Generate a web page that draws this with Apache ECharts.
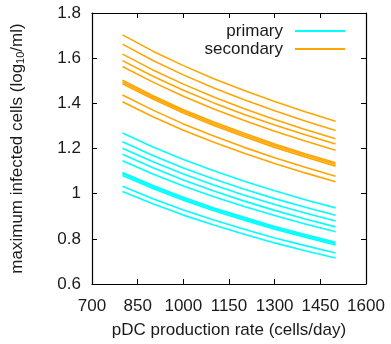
<!DOCTYPE html>
<html>
<head>
<meta charset="utf-8">
<script src="https://cdn.jsdelivr.net/npm/echarts@6/dist/echarts.min.js"></script>
<style>html,body{margin:0;padding:0;background:#fff}#c{width:391px;height:344px}</style>
</head>
<body>
<div id="c"></div>
<script>
const xValues = [800, 900, 1000, 1100, 1200, 1300, 1400, 1500];
const xTicks = [700, 850, 1000, 1150, 1300, 1450, 1600];
const yTicks = [0.6, 0.8, 1, 1.2, 1.4, 1.6, 1.8];

const primary = [
  [1.269, 1.207, 1.151, 1.101, 1.055, 1.013, 0.973, 0.937],
  [1.230, 1.169, 1.114, 1.065, 1.020, 0.978, 0.940, 0.904],
  [1.201, 1.141, 1.087, 1.038, 0.993, 0.952, 0.914, 0.879],
  [1.175, 1.115, 1.061, 1.012, 0.967, 0.926, 0.888, 0.853],
  [1.146, 1.087, 1.034, 0.986, 0.943, 0.903, 0.866, 0.831],
  [1.094, 1.036, 0.984, 0.937, 0.895, 0.855, 0.819, 0.785],
  [1.088, 1.030, 0.978, 0.931, 0.889, 0.849, 0.813, 0.779],
  [1.080, 1.023, 0.971, 0.924, 0.882, 0.843, 0.807, 0.773],
  [1.033, 0.978, 0.928, 0.883, 0.842, 0.804, 0.770, 0.737],
  [1.010, 0.955, 0.905, 0.861, 0.820, 0.782, 0.747, 0.715]
];

const secondary = [
  [1.703, 1.631, 1.567, 1.509, 1.457, 1.408, 1.363, 1.321],
  [1.662, 1.590, 1.526, 1.468, 1.416, 1.367, 1.322, 1.280],
  [1.618, 1.548, 1.485, 1.428, 1.376, 1.328, 1.284, 1.243],
  [1.589, 1.520, 1.458, 1.402, 1.351, 1.304, 1.261, 1.220],
  [1.563, 1.494, 1.431, 1.375, 1.324, 1.276, 1.233, 1.192],
  [1.502, 1.434, 1.372, 1.317, 1.267, 1.220, 1.177, 1.137],
  [1.495, 1.427, 1.365, 1.310, 1.260, 1.213, 1.170, 1.130],
  [1.487, 1.419, 1.357, 1.302, 1.252, 1.205, 1.162, 1.122],
  [1.437, 1.370, 1.309, 1.255, 1.205, 1.159, 1.117, 1.077],
  [1.407, 1.341, 1.281, 1.228, 1.179, 1.134, 1.092, 1.053]
];

const FONT = '"Liberation Sans", Arial, sans-serif';
const TXT = '#1a1a1a';
const FS = 17;

function mk(name, color, vals) {
  return {
    type: 'line', name: name, xAxisIndex: 0, yAxisIndex: 0,
    data: xValues.map((x, i) => [x, vals[i]]),
    symbol: 'none', showSymbol: false, smooth: false,
    lineStyle: { color: color, width: 1.6 }, itemStyle: { color: color },
    animation: false
  };
}

const series = [];
primary.forEach(v => series.push(mk('primary', '#00FFFF', v)));
secondary.forEach(v => series.push(mk('secondary', '#FFA500', v)));

const axisLine = { show: true, lineStyle: { color: '#000', width: 1.2 } };
const axisTick = { show: true, inside: true, length: 5, lineStyle: { color: '#000', width: 1 } };

const chart = echarts.init(document.getElementById('c'), null, { renderer: 'canvas' });
chart.setOption({
  animation: false,
  backgroundColor: '#fff',
  grid: { left: 92, right: 25, top: 13, bottom: 56, containLabel: false },
  legend: {
    data: ['primary', 'secondary'],
    orient: 'vertical', align: 'right',
    right: 41, top: 17,
    icon: 'rect',
    itemWidth: 50, itemHeight: 2, itemGap: 0,
    textStyle: { fontFamily: FONT, fontSize: FS, color: TXT, padding: [0, 7, 0, 0], lineHeight: 18 },
    selectedMode: false
  },
  xAxis: [
    {
      type: 'value', min: xTicks[0], max: xTicks[xTicks.length - 1], interval: 150,
      position: 'bottom',
      axisLine: axisLine, axisTick: axisTick, splitLine: { show: false },
      axisLabel: { fontFamily: FONT, fontSize: FS, color: TXT, margin: 14, formatter: v => String(v) },
      name: 'pDC production rate (cells/day)', nameLocation: 'middle', nameGap: 38,
      nameTextStyle: { fontFamily: FONT, fontSize: FS, color: TXT }
    },
    {
      type: 'value', min: xTicks[0], max: xTicks[xTicks.length - 1], interval: 150,
      position: 'top',
      axisLine: axisLine, axisTick: axisTick, splitLine: { show: false },
      axisLabel: { show: false }
    }
  ],
  yAxis: [
    {
      type: 'value', min: yTicks[0], max: yTicks[yTicks.length - 1], interval: 0.2,
      position: 'left',
      axisLine: axisLine, axisTick: axisTick, splitLine: { show: false },
      axisLabel: { fontFamily: FONT, fontSize: FS, color: TXT, margin: 11,
        formatter: v => String(Math.round(v * 10) / 10) },
      name: 'maximum infected cells (log{sub|10}/ml)', nameLocation: 'middle', nameGap: 66,
      nameRotate: 90,
      nameTextStyle: { fontFamily: FONT, fontSize: FS, color: TXT,
        rich: { sub: { fontFamily: FONT, fontSize: 11, color: TXT, verticalAlign: 'bottom', padding: [7, 0, 0, 0] } } }
    },
    {
      type: 'value', min: yTicks[0], max: yTicks[yTicks.length - 1], interval: 0.2,
      position: 'right',
      axisLine: axisLine, axisTick: axisTick, splitLine: { show: false },
      axisLabel: { show: false }
    }
  ],
  series: series
});
</script>
</body>
</html>
